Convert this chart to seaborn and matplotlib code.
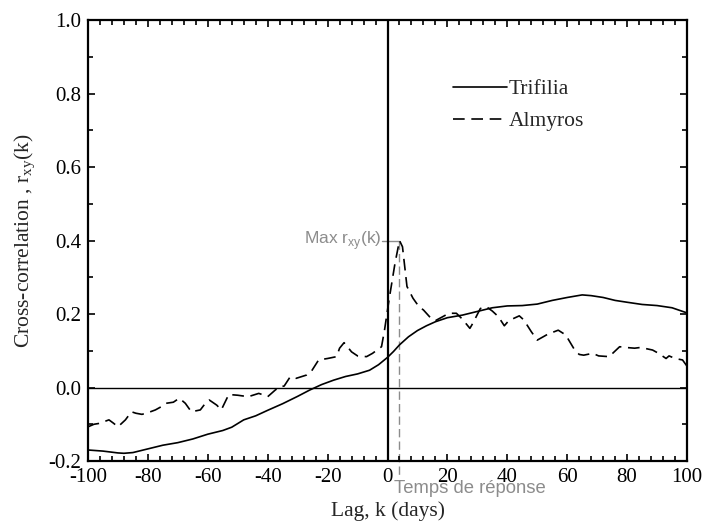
import numpy as np
import pandas as pd
import matplotlib
matplotlib.use("Agg")
import matplotlib.pyplot as plt
from matplotlib.ticker import FixedLocator, MultipleLocator
import seaborn as sns

# Cross-correlation between rainfall and water level, per station
trifilia_lag = [-100, -95, -90, -88, -85, -80, -75, -70, -65, -60, -55, -52, -48,
                -44, -40, -35, -30, -26, -22, -18, -14, -10, -6, -3, 0, 2, 4, 7,
                10, 13, 16, 20, 25, 30, 35, 40, 45, 50, 55, 60, 65, 68, 72, 76,
                80, 85, 90, 95, 100]
trifilia_r = [-0.170, -0.173, -0.178, -0.179, -0.177, -0.167, -0.157, -0.150,
              -0.140, -0.127, -0.117, -0.108, -0.088, -0.077, -0.062, -0.044,
              -0.024, -0.007, 0.008, 0.020, 0.030, 0.037, 0.047, 0.062, 0.082,
              0.098, 0.116, 0.138, 0.155, 0.168, 0.179, 0.190, 0.197, 0.207,
              0.217, 0.222, 0.223, 0.227, 0.237, 0.245, 0.252, 0.250, 0.245,
              0.237, 0.232, 0.226, 0.223, 0.217, 0.203]

almyros_lag = [-100, -98, -96.5, -95, -93, -91.5, -90, -87.5, -85.5, -84, -82,
               -80.5, -77.5, -75.5, -74, -71.5, -69.5, -67.5, -65.5, -62.5, -61,
               -59.5, -57, -55.5, -53, -50, -46.5, -43, -41.5, -40, -37.5, -36,
               -34.5, -32.5, -30.5, -27, -25.5, -23, -20, -17, -16, -14.5, -12,
               -10, -7, -5, -2, -1, 0.5, 2.5, 4, 5, 6.5, 8.5, 10.5, 12, 15, 16,
               18.5, 20.5, 23, 25, 27.5, 28.5, 31, 33, 35, 37, 39, 40.5, 44,
               45.5, 48, 50, 53.5, 57, 59.5, 62.5, 64, 65.5, 68.5, 70.5, 74,
               77.5, 79.5, 82.5, 84.5, 88.5, 90.5, 93, 94, 96, 98.5, 100]
almyros_r = [-0.107, -0.100, -0.098, -0.094, -0.088, -0.097, -0.107, -0.088,
             -0.066, -0.070, -0.073, -0.070, -0.061, -0.052, -0.043, -0.040,
             -0.029, -0.043, -0.066, -0.061, -0.045, -0.034, -0.048, -0.061,
             -0.019, -0.021, -0.025, -0.016, -0.020, -0.025, -0.007, 0.002,
             0.004, 0.029, 0.025, 0.034, 0.043, 0.075, 0.079, 0.084, 0.107,
             0.122, 0.097, 0.086, 0.084, 0.093, 0.111, 0.156, 0.238, 0.338,
             0.400, 0.383, 0.275, 0.243, 0.220, 0.211, 0.184, 0.182, 0.193,
             0.202, 0.202, 0.186, 0.161, 0.175, 0.215, 0.220, 0.208, 0.193,
             0.168, 0.182, 0.195, 0.184, 0.152, 0.129, 0.145, 0.156, 0.143,
             0.102, 0.090, 0.088, 0.093, 0.086, 0.084, 0.111, 0.109, 0.107,
             0.109, 0.102, 0.093, 0.079, 0.086, 0.079, 0.075, 0.058]

x_ticks = [-100, -80, -60, -40, -20, 0, 20, 40, 60, 80, 100]
x_tick_labels = ["-100", "-80", "-60", "-40", "-20", "0", "20", "40", "60", "80", "100"]
y_ticks = [-0.2, 0.0, 0.2, 0.4, 0.6, 0.8, 1.0]
y_tick_labels = ["-0.2", "0.0", "0.2", "0.4", "0.6", "0.8", "1.0"]

peak_lag = 4
peak_r = 0.400

sns.set_theme(style="ticks")
plt.rcParams["font.family"] = ["Liberation Serif", "DejaVu Serif"]
plt.rcParams["mathtext.fontset"] = "custom"
plt.rcParams["mathtext.rm"] = "Liberation Serif"
plt.rcParams["mathtext.sf"] = "Liberation Sans"
plt.rcParams["axes.unicode_minus"] = False

trifilia = pd.DataFrame({"lag": trifilia_lag, "r": trifilia_r})
almyros = pd.DataFrame({"lag": almyros_lag, "r": almyros_r})

fig = plt.figure(figsize=(7.05, 5.24), dpi=100)
ax = fig.add_axes([0.1248, 0.1202, 0.8497, 0.8416])

sns.lineplot(data=trifilia, x="lag", y="r", ax=ax, color="black", lw=1.2,
             label="Trifilia")
sns.lineplot(data=almyros, x="lag", y="r", ax=ax, color="black", lw=1.2,
             dashes=False, label="Almyros")
ax.lines[-1].set_dashes((7, 4))

# zero-lag and zero-correlation reference lines
ax.axvline(0, color="black", lw=1.6, zorder=1)
ax.axhline(0, color="black", lw=1.0, zorder=1)

# response time marker
grey = "#8c8c8c"
ax.plot([peak_lag, peak_lag], [peak_r, -0.245], color=grey, lw=1.0,
        dashes=(6, 3), clip_on=False, zorder=0)
ax.plot([-1.8, peak_lag], [peak_r, peak_r], color=grey, lw=1.0, zorder=0)
ax.text(-2.0, peak_r, r"Max r$_{\mathsf{xy}}$(k)", color=grey, ha="right",
        va="center", fontsize=12.5, family=["Liberation Sans", "DejaVu Sans"])
ax.text(peak_lag - 1.8, -0.275, "Temps de réponse", color=grey, ha="left",
        va="center", fontsize=13.3, family=["Liberation Sans", "DejaVu Sans"],
        clip_on=False)

ax.set_xlim(-100, 100)
ax.set_ylim(-0.2, 1.0)
ax.xaxis.set_major_locator(FixedLocator(x_ticks))
ax.set_xticklabels(x_tick_labels)
ax.xaxis.set_minor_locator(MultipleLocator(4))
ax.yaxis.set_major_locator(FixedLocator(y_ticks))
ax.set_yticklabels(y_tick_labels)
ax.yaxis.set_minor_locator(MultipleLocator(0.1))

ax.tick_params(which="both", direction="in", top=True, right=True,
               labelsize=15, colors="black", width=1.2)
ax.tick_params(which="major", length=5, pad=5)
ax.tick_params(which="minor", length=3.5)

for s in ax.spines.values():
    s.set_visible(True)
    s.set_linewidth(1.6)
    s.set_color("black")

ax.set_xlabel("Lag, k (days)", fontsize=15.5, labelpad=10)
ax.set_ylabel(r"Cross-correlation , r$_{\rm xy}$(k)", fontsize=15.5, labelpad=7)

leg = ax.legend(loc="upper left", bbox_to_anchor=(0.609, 0.866), frameon=False,
                fontsize=15.5, handlelength=2.5, handletextpad=0.1,
                borderpad=0, borderaxespad=0, labelspacing=0.55)

fig.savefig("out.png", dpi=100)
